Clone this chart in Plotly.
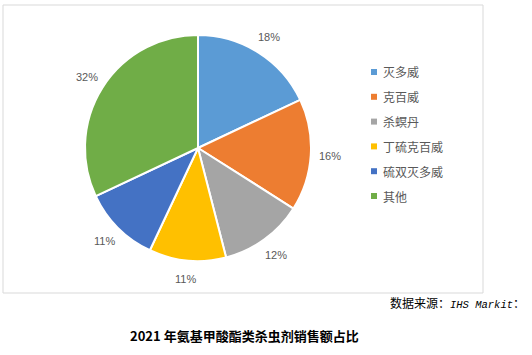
import math
import plotly.graph_objects as go

W, H = 532, 355
categories = ["灭多威", "克百威", "杀螟丹", "丁硫克百威", "硫双灭多威", "其他"]
values = [18, 16, 12, 11, 11, 32]
colors = ["#5B9BD5", "#ED7D31", "#A5A5A5", "#FFC000", "#4472C4", "#70AD47"]
title_text = "2021 年氨基甲酸酯类杀虫剂销售额占比"
source_text = "数据来源：<span style=\"font-family:'Liberation Mono';font-size:10.5px\"><i>IHS Markit</i></span>："

def px(x):
    return x / W

def py(y):
    return 1 - y / H

cx, cy, r = 198, 148, 113

fig = go.Figure()
fig.add_trace(go.Pie(
    labels=categories, values=values, sort=False, direction="clockwise", rotation=0,
    marker=dict(colors=colors, line=dict(color="white", width=2)),
    textinfo="none",
    domain=dict(x=[px(cx - r), px(cx + r)], y=[py(cy + r), py(cy - r)]),
    showlegend=False, hoverinfo="skip",
))

shapes = [dict(type="rect", xref="paper", yref="paper", x0=px(3), x1=px(483), y0=py(293), y1=py(5),
               line=dict(color="#D9D9D9", width=1), fillcolor="rgba(0,0,0,0)")]
annotations = []

# percentage labels outside each slice
total = sum(values)
cum = 0
R = 132
for v in values:
    mid = (cum + v / 2) / total * 2 * math.pi
    cum += v
    lx = cx + R * math.sin(mid)
    ly = cy - R * math.cos(mid)
    annotations.append(dict(x=px(lx), y=py(ly), xref="paper", yref="paper",
                            text=f"{round(v / total * 100)}%", showarrow=False,
                            xanchor="center", yanchor="middle",
                            font=dict(size=11, color="#595959", family="Liberation Sans")))

ly0, dy = 72, 24.8
for i, (c, col) in enumerate(zip(categories, colors)):
    y = ly0 + i * dy
    shapes.append(dict(type="rect", xref="paper", yref="paper", x0=px(371), x1=px(377), y0=py(y + 3), y1=py(y - 3),
                       line=dict(width=0), fillcolor=col))
    annotations.append(dict(x=px(381), y=py(y), xref="paper", yref="paper", text=c, showarrow=False,
                            xanchor="left", yanchor="middle",
                            font=dict(size=12, color="#595959", family="Noto Sans CJK SC")))

annotations.append(dict(x=px(388), y=py(302), xref="paper", yref="paper", text=source_text, showarrow=False,
                        xanchor="left", yanchor="middle",
                        font=dict(size=12, color="#000000", family="Noto Sans CJK SC")))
annotations.append(dict(x=px(244), y=py(335), xref="paper", yref="paper", text="<b>" + title_text + "</b>",
                        showarrow=False, xanchor="center", yanchor="middle",
                        font=dict(size=13, color="#000000", family="Noto Sans CJK SC")))

fig.update_layout(width=W, height=H, margin=dict(l=0, r=0, t=0, b=0),
                  paper_bgcolor="white", plot_bgcolor="white",
                  shapes=shapes, annotations=annotations)
fig.write_html("out.html")
